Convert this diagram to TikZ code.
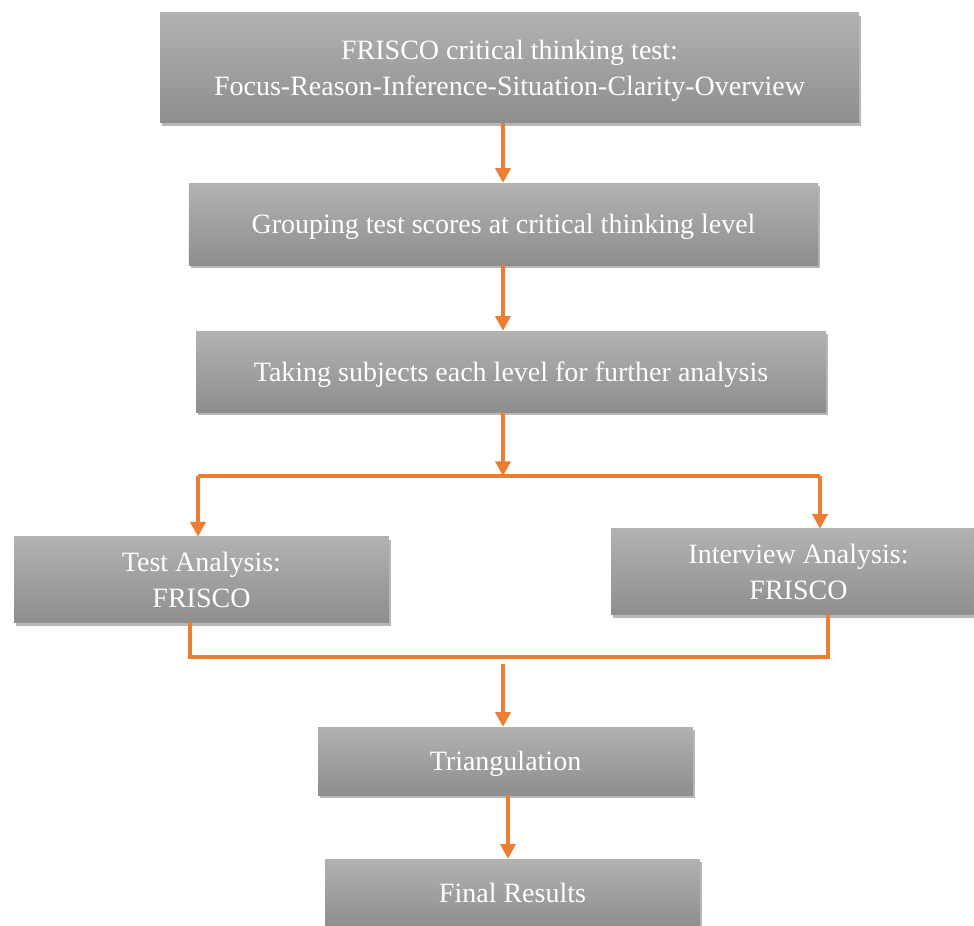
\documentclass[tikz,border=0pt]{standalone}
\usepackage{fontspec}
\setmainfont{Liberation Serif}
\usetikzlibrary{arrows.meta,shadows,calc}
\definecolor{boxtop}{HTML}{B2B2B2}
\definecolor{boxbot}{HTML}{8E8E8E}
\definecolor{orng}{HTML}{ED7D31}
\tikzset{
  x=0.75pt, y=-0.75pt,
  flowbox/.style={rectangle, top color=boxtop, bottom color=boxbot, draw=none,
    text=white, align=center, font=\fontsize{21}{27}\selectfont,
    inner sep=0pt, text depth=0pt,
    drop shadow={shadow xshift=1.5pt, shadow yshift=-2.5pt, opacity=0.4, fill=black!70}},
  conn/.style={draw=orng, line width=2.3pt},
  arrowc/.style={conn, -{Triangle[width=11.5pt,length=11pt]}},
}
\begin{document}
\begin{tikzpicture}
\useasboundingbox (0,0) rectangle (974,925);
\clip (0,0) rectangle (974,925);
\fill[white] (0,0) rectangle (974,925);

\node[flowbox, minimum width=524pt, minimum height=83pt] (b1) at (509.5,67.5)
  {FRISCO critical thinking test:\\Focus-Reason-Inference-Situation-Clarity-Overview};
\node[flowbox, minimum width=472pt, minimum height=61.5pt] (b2) at (503.5,224)
  {Grouping test scores at critical thinking level};
\node[flowbox, minimum width=472.5pt, minimum height=60.75pt] (b3) at (511,371.5)
  {Taking subjects each level for further analysis};
\node[flowbox, minimum width=281pt, minimum height=64pt] (b4) at (201.5,579.5)
  {Test Analysis:\\FRISCO};
\node[flowbox, minimum width=281pt, minimum height=64pt] (b5) at (798.5,571.5)
  {Interview Analysis:\\FRISCO};
\node[flowbox, minimum width=281pt, minimum height=51pt] (b6) at (505.5,761)
  {Triangulation};
\node[flowbox, minimum width=281pt, minimum height=51pt] (b7) at (512.5,893)
  {Final Results};

% coordinates
\coordinate (split) at (503,476);
\coordinate (sl) at (198,476);
\coordinate (sr) at (820,476);
\coordinate (jl) at (190,657);
\coordinate (jr) at (828,657);
\coordinate (jm) at (503,664);
\coordinate (tb) at (508,800);

\draw[arrowc] (b1.south -| split) -- (b2.north -| split);
\draw[arrowc] (b2.south -| split) -- (b3.north -| split);
\draw[arrowc] (b3.south -| split) -- (split);
\draw[conn] (sl) -- (sr);
\draw[arrowc] (sl) -- (b4.north -| sl);
\draw[arrowc] (sr) -- (b5.north -| sr);
\draw[conn] (b4.south -| jl) -- (jl) -- (jr) -- (b5.south -| jr);
\draw[arrowc] (jm) -- (b6.north -| jm);
\draw[arrowc] (b6.south -| tb) -- (b7.north -| tb);
\end{tikzpicture}
\end{document}
